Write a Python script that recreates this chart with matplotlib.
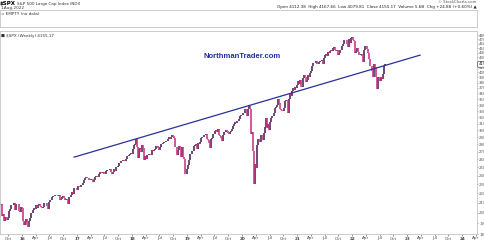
import numpy as np
import pandas as pd
import matplotlib
matplotlib.use("Agg")
import matplotlib.pyplot as plt
from matplotlib.ticker import NullLocator

# weekly closes of $SPX, week by week (Fridays)
close_2015 = [2077.6, 2091.5, 1970.9, 1988.9, 1921.2, 1961.1, 1958.1, 1931.3, 1951.4, 2014.9,
              2033.1, 2075.2, 2079.4, 2099.2, 2023.0, 2089.2, 2090.1, 2091.7, 2012.4, 2005.6,
              2061.0, 2043.9]
close_2016 = [1922.0, 1880.3, 1906.9, 1940.2, 1880.1, 1864.8, 1917.8, 1948.1, 2000.0, 2022.2,
              2049.6, 2035.9, 2072.8, 2047.6, 2080.7, 2091.6, 2065.3, 2057.1, 2046.6, 2052.3,
              2099.1, 2099.1, 2096.1, 2071.2, 2037.4, 2103.0, 2129.9, 2161.7, 2175.0, 2173.6,
              2182.9, 2184.1, 2183.9, 2169.0, 2180.0, 2127.8, 2139.2, 2164.7, 2168.3, 2153.7,
              2133.0, 2141.2, 2126.4, 2085.2, 2164.5, 2181.9, 2213.4, 2192.0, 2259.5, 2258.1,
              2263.8, 2238.8]
close_2017 = [2277.0, 2274.6, 2271.3, 2294.7, 2297.4, 2316.1, 2351.2, 2367.3, 2383.1, 2372.6,
              2378.3, 2344.0, 2362.7, 2355.5, 2329.0, 2348.7, 2384.2, 2399.3, 2390.9, 2381.7,
              2415.8, 2439.1, 2431.8, 2433.2, 2438.3, 2423.4, 2425.2, 2459.3, 2472.5, 2472.1,
              2476.8, 2441.3, 2425.6, 2443.1, 2476.6, 2461.4, 2500.2, 2502.2, 2519.4, 2549.3,
              2553.2, 2575.2, 2581.1, 2587.8, 2582.3, 2578.9, 2602.4, 2642.2, 2651.5, 2675.8,
              2683.3, 2673.6]
close_2018 = [2743.2, 2786.2, 2810.3, 2872.9, 2762.1, 2619.6, 2732.2, 2747.3, 2691.3, 2786.6,
              2752.0, 2588.3, 2640.9, 2604.5, 2656.3, 2670.1, 2669.9, 2663.4, 2727.7, 2713.0,
              2721.3, 2734.6, 2779.0, 2779.7, 2754.9, 2718.4, 2759.8, 2801.3, 2801.8, 2818.8,
              2840.4, 2833.3, 2850.1, 2874.7, 2901.5, 2871.7, 2905.0, 2929.7, 2914.0, 2885.6,
              2767.1, 2767.8, 2658.7, 2723.1, 2781.0, 2736.3, 2632.6, 2760.2, 2633.1, 2600.0,
              2416.6, 2485.7]
close_2019 = [2531.9, 2596.3, 2670.7, 2664.8, 2706.5, 2707.9, 2775.6, 2792.7, 2803.7, 2743.1,
              2822.5, 2800.7, 2834.4, 2892.7, 2907.4, 2905.0, 2939.9, 2945.6, 2881.4, 2859.5,
              2826.1, 2752.1, 2873.3, 2887.0, 2950.5, 2941.8, 2990.4, 3013.8, 2976.6, 3025.9,
              2932.1, 2918.7, 2888.7, 2847.1, 2926.5, 2978.7, 3007.4, 2992.1, 2961.8, 2952.0,
              2970.3, 2986.2, 3022.6, 3066.9, 3093.1, 3120.5, 3110.3, 3141.0, 3145.9, 3168.8,
              3221.2, 3240.0]
close_2020 = [3234.9, 3265.4, 3329.6, 3295.5, 3225.5, 3327.7, 3380.2, 3337.8, 2954.2, 2972.4,
              2711.0, 2304.9, 2541.5, 2488.7, 2789.8, 2874.6, 2836.7, 2830.7, 2929.8, 2863.7,
              2955.5, 3044.3, 3193.9, 3041.3, 3097.7, 3009.1, 3130.0, 3185.0, 3224.7, 3215.6,
              3271.1, 3351.3, 3372.9, 3397.2, 3508.0, 3427.0, 3341.0, 3319.5, 3298.5, 3348.4,
              3477.1, 3483.8, 3465.4, 3270.0, 3509.4, 3585.2, 3557.5, 3638.4, 3699.1, 3663.5,
              3709.4, 3703.1, 3756.1]
close_2021 = [3824.7, 3768.3, 3841.5, 3714.2, 3886.8, 3934.8, 3906.7, 3811.2, 3841.9, 3943.3,
              3913.1, 3974.5, 4019.9, 4128.8, 4185.5, 4180.2, 4181.2, 4232.6, 4173.9, 4155.9,
              4204.1, 4229.9, 4247.4, 4166.5, 4280.7, 4352.3, 4369.6, 4327.2, 4411.8, 4395.3,
              4436.5, 4468.0, 4441.7, 4509.4, 4535.4, 4458.6, 4433.0, 4455.5, 4357.0, 4391.3,
              4471.4, 4544.9, 4605.4, 4697.5, 4682.9, 4698.0, 4594.6, 4538.4, 4712.0, 4620.6,
              4725.8, 4766.2]
close_2022 = [4677.0, 4662.9, 4397.9, 4431.9, 4500.5, 4418.6, 4348.9, 4384.7, 4328.9, 4204.3,
              4463.1, 4543.1, 4545.9, 4488.3, 4392.6, 4271.8, 4131.9, 4123.3, 4023.9, 3901.4,
              4158.2, 4108.5, 3900.9, 3674.8, 3911.7, 3825.3, 3899.4, 3863.2, 3961.6, 4130.3,
              4155.17]

# blue trendline drawn across the highs
trend_dates = ["2016-12-12", "2023-03-27"]
trend_prices = [2630, 4350]

ytick_values = list(range(1800, 4900, 100))
last_close = 4155.17

closes = np.array(close_2015 + close_2016 + close_2017 + close_2018 +
                  close_2019 + close_2020 + close_2021 + close_2022)
dates = pd.date_range("2015-08-07", periods=len(closes), freq="W-FRI")

W, H = 485, 241


def fx(x):
    return x / W


def fy(y):
    return 1 - y / H


fig = plt.figure(figsize=(W / 100, H / 100), dpi=100)
fig.patch.set_facecolor("white")

ax = fig.add_axes([0, fy(234), fx(477), fy(31) - fy(234)])
top = fig.add_axes([0, fy(27), fx(477), fy(10) - fy(27)])

for a in (ax, top):
    for s in a.spines.values():
        s.set_color("#c4c4c4")
        s.set_linewidth(0.6)

top.set_xticks([])
top.set_yticks([])
top.text(0.003, 0.78, "= EMPTY (no data)", transform=top.transAxes,
         fontsize=3, color="#333333", va="center")

# --- price bars (range from previous close to close) ---
prev = np.concatenate([[closes[0]], closes[:-1]])
lo = np.minimum(prev, closes)
hi = np.maximum(prev, closes)
up = closes >= prev
ax.vlines(dates[up], lo[up], hi[up], color="#42184a", linewidth=1.1)
ax.vlines(dates[~up], lo[~up], hi[~up], color="#cc2a7c", linewidth=1.1)

# trendline
ax.plot(pd.to_datetime(trend_dates), trend_prices, color="#2b2f9c", linewidth=0.9)

ax.set_yscale("log")
ax.set_ylim(1800, 4900)
ax.set_xlim(pd.Timestamp("2015-08-08"), pd.Timestamp("2024-04-08"))

ax.yaxis.tick_right()
ax.yaxis.set_minor_locator(NullLocator())
ax.set_yticks(ytick_values)
ax.set_yticklabels([str(v) for v in ytick_values])
ax.tick_params(axis="y", labelsize=2.8, colors="#555555", length=1, width=0.4, pad=0.5)

# quarterly month ticks, bold two digit years
xt = pd.date_range("2015-10-01", "2024-04-01", freq="QS-JAN")
xl = [d.strftime("%y") if d.month == 1 else d.strftime("%b") for d in xt]
ax.set_xticks(xt)
ax.set_xticklabels(xl)
for lab, d in zip(ax.get_xticklabels(), xt):
    if d.month == 1:
        lab.set_fontweight("bold")
ax.tick_params(axis="x", labelsize=3, colors="#444444", length=1.2, width=0.4, pad=0.6)

# highlighted last value on the axis
ax.text(1.003, last_close, "4155", transform=ax.get_yaxis_transform(),
        fontsize=2.8, color="#222222", va="center", ha="left",
        bbox=dict(boxstyle="round,pad=0.2", fc="white", ec="#333333", lw=0.4),
        clip_on=False)

ax.text(0.003, 0.985, "\u25a0 $SPX (Weekly) 4155.17", transform=ax.transAxes,
        fontsize=3, color="#333333", va="top")

# header
fig.text(fx(0), fy(3.5), "$SPX", fontsize=4, fontweight="bold", va="center")
fig.text(fx(17), fy(3.5), "S&P 500 Large Cap Index INDX", fontsize=3, va="center", color="#333333")
fig.text(fx(1), fy(8.5), "1-Aug-2022", fontsize=3, va="center", color="#333333")
fig.text(fx(477), fy(2), "\u00a9 StockCharts.com", fontsize=2.8, va="center", ha="right",
         color="#555555")
fig.text(fx(477), fy(7), "Open 4112.38  High 4167.66  Low 4079.81  Close 4155.17  "
         "Volume 5.6B  Chg +24.88 (+0.60%) \u25b2", fontsize=3, va="center", ha="right",
         color="#222222")

# watermark
fig.text(fx(242), fy(57), "NorthmanTrader.com", fontsize=5.5, fontweight="bold",
         family="Liberation Sans", color="#1f2f9e", ha="center", va="center")

fig.savefig("out.png", dpi=100, facecolor="white")
